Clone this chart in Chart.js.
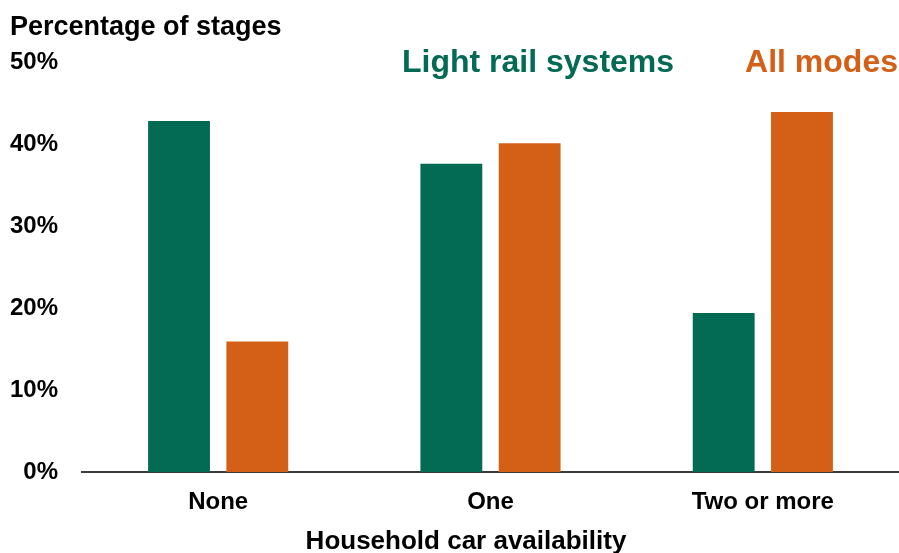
<!DOCTYPE html>
<html>
<head>
<meta charset="utf-8">
<script src="https://cdn.jsdelivr.net/npm/chart.js@4/dist/chart.umd.min.js"></script>
<style>
  html, body { margin: 0; padding: 0; background: #fff; }
  #wrap { width: 899px; height: 553px; position: relative; }
</style>
</head>
<body>
<div id="wrap"><canvas id="chart"></canvas></div>
<script>
// ── data ─────────────────────────────────────────────
const categories = ['None', 'One', 'Two or more'];
const lightRail  = [42.8, 37.6, 19.4];
const allModes   = [15.9, 40.1, 43.9];
const yTicks     = [0, 10, 20, 30, 40, 50];

const GREEN  = '#036A53';
const ORANGE = '#D45F17';
const FONT   = "'Liberation Sans', Arial, sans-serif";

// headings + legend drawn straight onto the canvas
const textLayer = {
  id: 'textLayer',
  afterDraw(chart) {
    const { ctx, chartArea } = chart;
    ctx.save();
    ctx.textBaseline = 'alphabetic';

    ctx.fillStyle = '#000';
    ctx.font = `bold 27px ${FONT}`;
    ctx.textAlign = 'left';
    ctx.fillText('Percentage of stages', 10, 35);

    ctx.font = `bold 32px ${FONT}`;
    ctx.textAlign = 'right';
    const sets = chart.data.datasets;
    ctx.fillStyle = sets[1].backgroundColor;
    ctx.fillText(sets[1].label, chartArea.right - 1, 72);
    const w = ctx.measureText(sets[1].label).width;
    ctx.fillStyle = sets[0].backgroundColor;
    ctx.fillText(sets[0].label, chartArea.right - 1 - w - 71, 72);

    ctx.fillStyle = '#000';
    ctx.font = `bold 26px ${FONT}`;
    ctx.textAlign = 'center';
    ctx.fillText('Household car availability', 466, 549);
    ctx.restore();
  }
};

new Chart(document.getElementById('chart'), {
  type: 'bar',
  data: {
    labels: categories,
    datasets: [
      { label: 'Light rail systems', data: lightRail, backgroundColor: GREEN },
      { label: 'All modes',          data: allModes,  backgroundColor: ORANGE },
    ],
  },
  options: {
    responsive: true,
    maintainAspectRatio: false,
    animation: false,
    layout: { padding: { top: 62, left: 0, right: 0, bottom: 0 } },
    datasets: { bar: { categoryPercentage: 0.575, barPercentage: 0.79 } },
    plugins: { legend: { display: false }, tooltip: { enabled: false } },
    scales: {
      x: {
        afterFit: s => { s.height = 81; },
        grid: { display: false, drawTicks: false },
        border: { display: true, color: '#3a3a3a', width: 2 },
        ticks: { color: '#000', padding: 16, font: { family: FONT, size: 24, weight: 'bold' } },
      },
      y: {
        min: 0,
        max: 50,
        afterFit: s => { s.width = 82; },
        afterBuildTicks: s => { s.ticks = yTicks.map(v => ({ value: v })); },
        grid: { display: false, drawTicks: false },
        border: { display: false },
        ticks: {
          color: '#000',
          padding: 24,
          font: { family: FONT, size: 24, weight: 'bold' },
          callback: v => v + '%',
        },
      },
    },
  },
  plugins: [textLayer],
});
</script>
</body>
</html>
